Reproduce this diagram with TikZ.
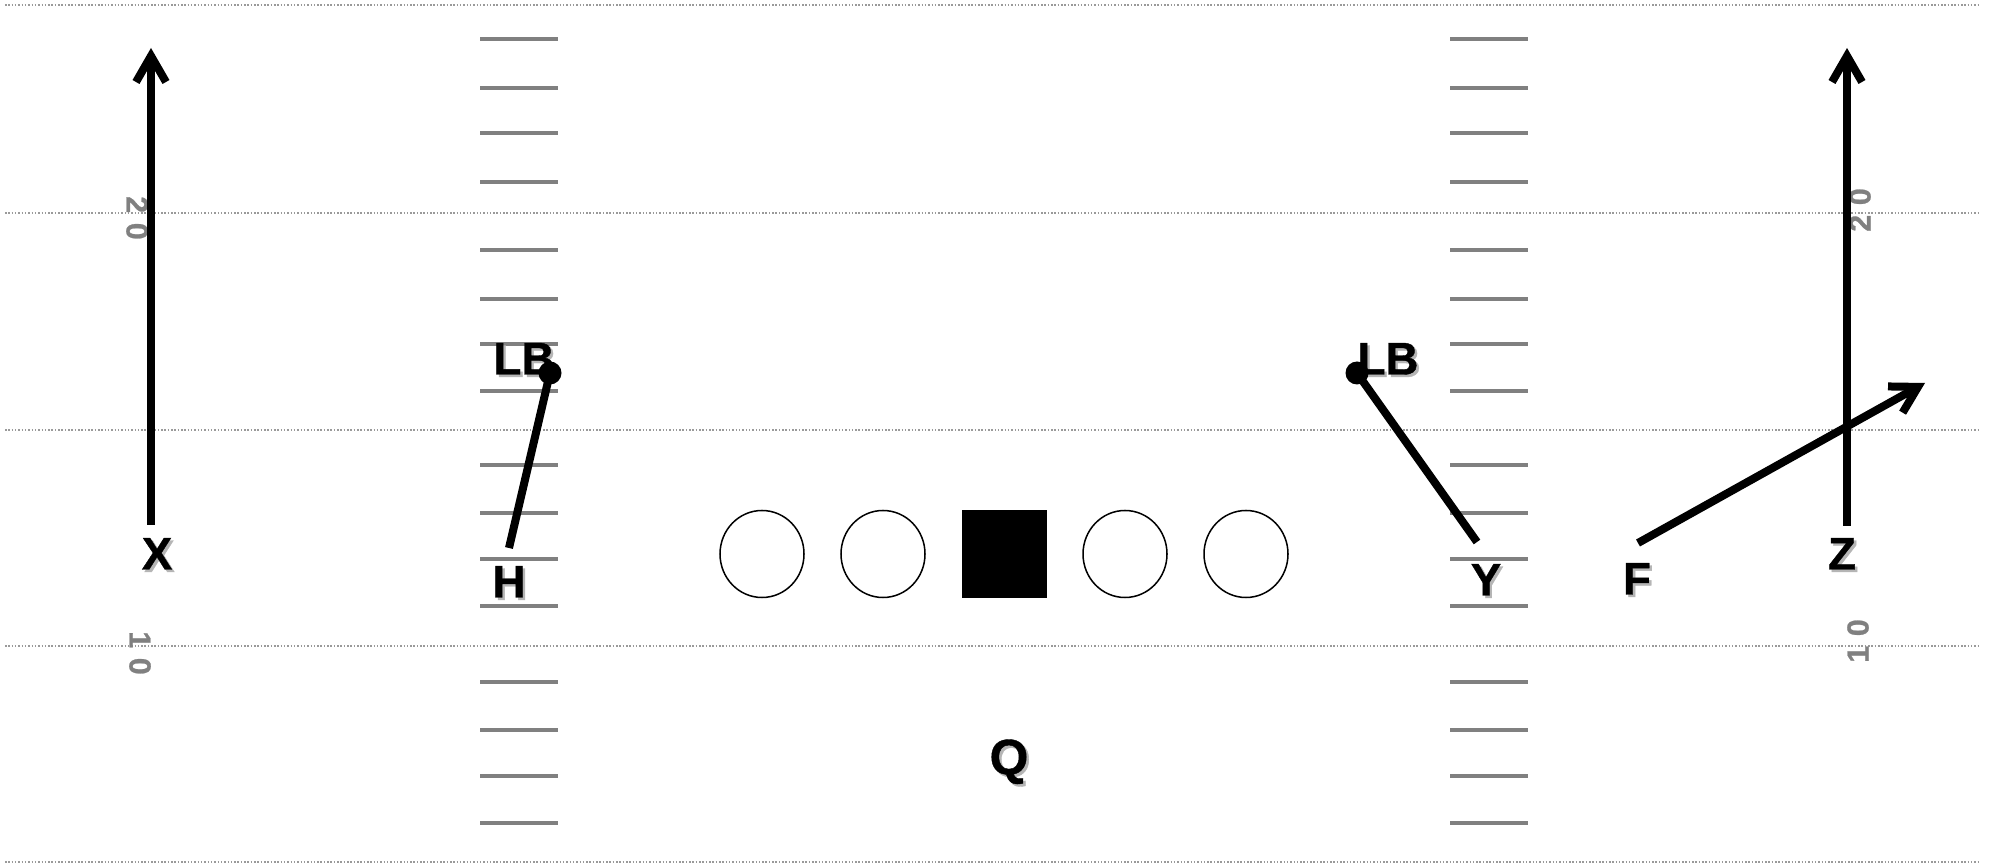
\documentclass[tikz,border=0pt]{standalone}
\usepackage{fontspec}
\setmainfont{Liberation Sans}
\newfontfamily\heavyfont{Liberation Sans Bold}[FakeBold=0.8]
\usepackage{xcolor}
\usepackage{tikz}
\usetikzlibrary{arrows.meta,shapes.geometric}
\definecolor{Chalk}{HTML}{9A9A9A}
\definecolor{Hash}{HTML}{808080}
\definecolor{Shade}{HTML}{B5B5B5}
\newcommand{\shtext}[1]{\rlap{\kern1.8pt\raisebox{-1.8pt}{\color{Shade}#1}}#1}

\begin{document}
\begin{tikzpicture}[x=1in,y=1in,
  yardline/.style={Chalk,line width=1.1pt,dash pattern=on 1.1pt off 1.3pt},
  hashmark/.style={Hash,line width=0.04in},
  yardnum/.style={text=Hash,font=\heavyfont\fontsize{22}{22}\selectfont,inner sep=0pt},
  player/.style={font=\heavyfont\fontsize{33}{36}\selectfont,inner sep=0pt},
  route/.style={line width=0.08in},
  routetip/.style={route,-{Straight Barb[length=0.26in,width=0.30in]}},
  lineman/.style={ellipse,draw,line width=1.1pt,minimum width=0.84in,minimum height=0.87in,inner sep=0pt},
  center/.style={rectangle,fill=black,minimum width=0.85in,minimum height=0.88in,inner sep=0pt},
  lbdot/.style={circle,fill=black,minimum size=0.23in,inner sep=0pt}]
\fill[white] (0,0) rectangle (19.92,8.65);
\useasboundingbox (0,0) rectangle (19.92,8.65);
\foreach \y in {8.60,6.52,4.35,2.19,0.03}
  \draw[yardline] (0.05,\y) -- (19.78,\y);
\foreach \y in {8.26,7.77,7.32,6.83,6.15,5.66,5.21,4.74,4.00,3.52,3.06,2.59,1.83,1.35,0.89,0.42}{
  \draw[hashmark] (4.80,\y) -- (5.58,\y);
  \draw[hashmark] (14.50,\y) -- (15.28,\y);
}
\node[yardnum,rotate=-90] (numLtop) at (1.37,6.47) {2\kern7pt0};
\node[yardnum,rotate=-90] (numLbot) at (1.40,2.12) {1\kern7pt0};
\node[yardnum,rotate=90] (numRtop) at (18.60,6.55) {2\kern7pt0};
\node[yardnum,rotate=90] (numRbot) at (18.58,2.24) {1\kern7pt0};
\node[lineman] (lt) at (7.62,3.11) {};
\node[lineman] (lg) at (8.83,3.11) {};
\node[center] (c) at (10.04,3.11) {};
\node[lineman] (rg) at (11.25,3.11) {};
\node[lineman] (rt) at (12.46,3.11) {};
\node[player,font=\heavyfont\fontsize{36}{40}\selectfont] (q) at (10.09,1.02) {\shtext{Q}};
\node[player] (x) at (1.57,3.10) {\shtext{X}};
\node[player] (h) at (5.09,2.82) {\shtext{H}};
\node[player] (y) at (14.86,2.84) {\shtext{Y}};
\node[player] (f) at (16.37,2.85) {\shtext{F}};
\node[player] (z) at (18.42,3.10) {\shtext{Z}};
\node[player] (lbLtxt) at (5.24,5.05) {\shtext{LB}};
\node[player] (lbRtxt) at (13.88,5.05) {\shtext{LB}};
\node[lbdot] (lbL) at (5.50,4.92) {};
\node[lbdot] (lbR) at (13.57,4.92) {};
\coordinate (xs) at (1.51,3.40);
\coordinate (xe) at (1.51,8.17);
\coordinate (zs) at (18.47,3.39);
\coordinate (ze) at (18.47,8.17);
\coordinate (hs) at (5.09,3.17);
\coordinate (ys) at (14.77,3.23);
\coordinate (fs) at (16.38,3.22);
\coordinate (fe) at (19.25,4.82);
\draw[routetip] (xs) -- (xe);
\draw[routetip] (zs) -- (ze);
\draw[routetip] (fs) -- (fe);
\draw[route] (hs) -- (lbL.center);
\draw[route] (ys) -- (lbR.center);
\end{tikzpicture}
\end{document}
